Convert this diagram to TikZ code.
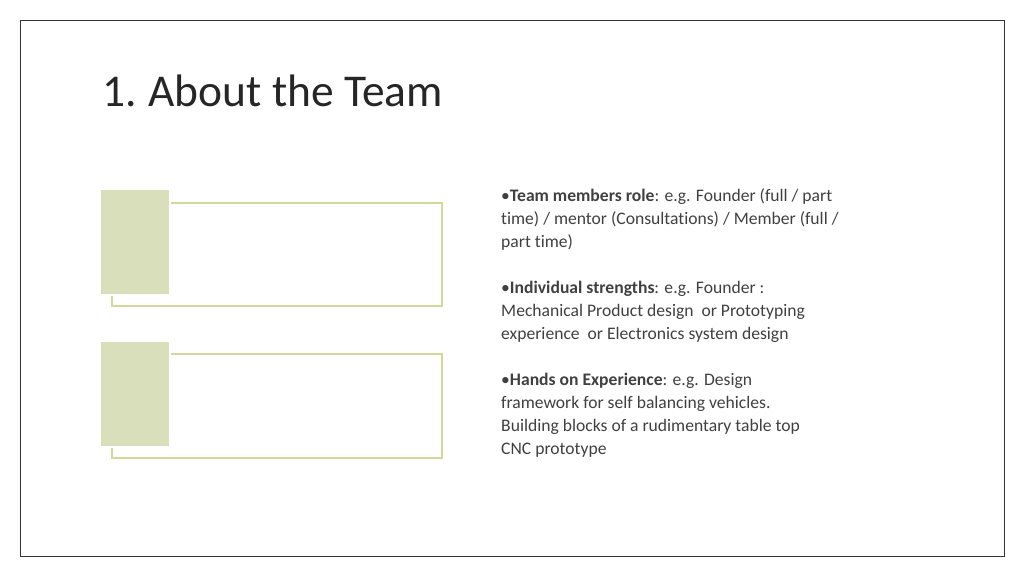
\documentclass[tikz,border=0pt]{standalone}
\usepackage{fontspec}
\setmainfont{Carlito}[Ligatures=NoCommon]
\definecolor{sq}{HTML}{D9DFBA}
\definecolor{ol}{HTML}{D2D99A}
\definecolor{tx}{HTML}{404040}
\begin{document}
\begin{tikzpicture}[x=1pt,y=-1pt,
  ln/.style={anchor=base west,inner sep=0pt,font=\fontsize{17.6}{20}\selectfont,text=tx},
  outl/.style={draw=ol,line width=1.3pt},
  sqr/.style={fill=sq,draw=white,line width=1.5pt}]
\useasboundingbox (0,0) rectangle (1024,576);
\draw[line width=0.8pt,draw=black!80] (20,20) rectangle (1004,556);
\node[anchor=base west,inner sep=0pt,font=\fontsize{45.5}{50}\selectfont,text=black!85] (title) at (102,106) {1.\kern-2pt{} About the Team};
\draw[outl] (112,203) rectangle (442,306);
\draw[sqr] (100,189) rectangle (170,295);
\draw[outl] (112,354) rectangle (442,458);
\draw[sqr] (100,341) rectangle (170,447);
\node[ln] (a1) at (501,201) {•\textbf{Team members role}: e.g. Founder (full / part};
\node[ln] (a2) at (501,224) {time) / mentor (Consultations) / Member (full /};
\node[ln] (a3) at (501,247) {part time)};
\node[ln] (b1) at (501,293) {•\textbf{Individual strengths}: e.g. Founder :};
\node[ln] (b2) at (501,316) {Mechanical Product design\ \ or Prototyping};
\node[ln] (b3) at (501,339) {experience\ \ or Electronics system design};
\node[ln] (c1) at (501,385) {•\textbf{Hands on Experience}: e.g. Design};
\node[ln] (c2) at (501,408) {framework for self balancing vehicles.};
\node[ln] (c3) at (501,431) {Building blocks of a rudimentary table top};
\node[ln] (c4) at (501,454) {CNC prototype};
\end{tikzpicture}
\end{document}
